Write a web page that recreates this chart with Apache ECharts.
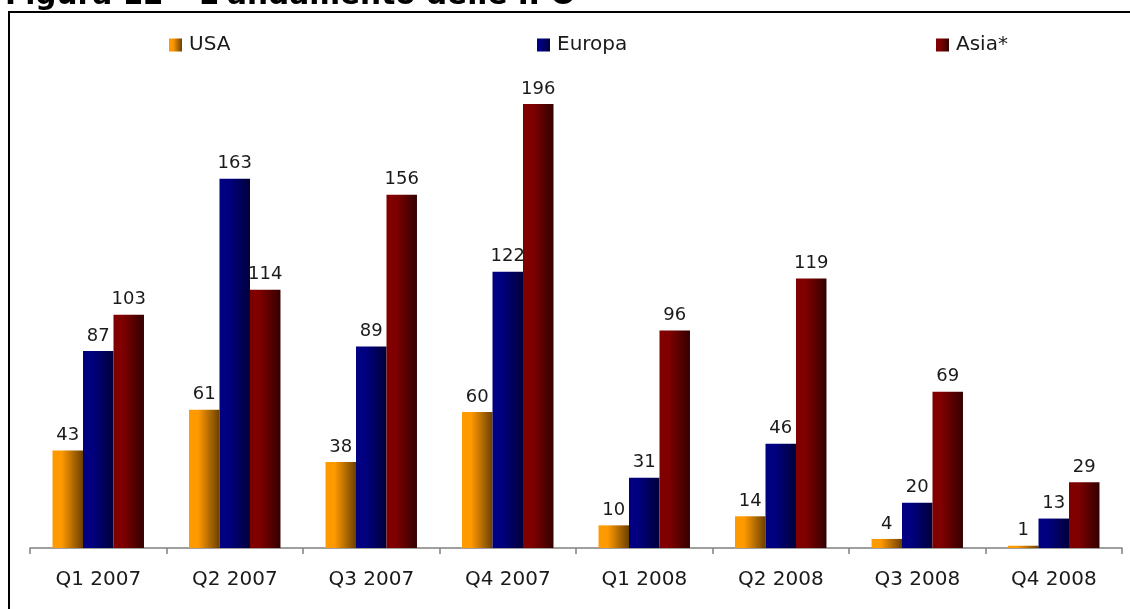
<!DOCTYPE html>
<html>
<head>
<meta charset="utf-8">
<script src="https://cdn.jsdelivr.net/npm/echarts@6/dist/echarts.min.js"></script>
<style>
  html, body { margin: 0; padding: 0; background: #fff; }
  #chart { width: 1130px; height: 609px; }
</style>
</head>
<body>
<div id="chart"></div>
<script>
const categories = ['Q1 2007', 'Q2 2007', 'Q3 2007', 'Q4 2007', 'Q1 2008', 'Q2 2008', 'Q3 2008', 'Q4 2008']
const usa = [43, 61, 38, 60, 10, 14, 4, 1]
const europa = [87, 163, 89, 122, 31, 46, 20, 13]
const asia = [103, 114, 156, 196, 96, 119, 69, 29]

const font = 'DejaVu Sans, Verdana, sans-serif'

function grad (light, dark) {
  return new echarts.graphic.LinearGradient(0, 0, 1, 0, [
    { offset: 0, color: light },
    { offset: 0.3, color: light },
    { offset: 1, color: dark }
  ])
}

function bars (name, data, light, dark) {
  return {
    name: name,
    type: 'bar',
    data: data,
    barGap: '0%',
    barCategoryGap: '33%',
    itemStyle: { color: grad(light, dark) },
    label: {
      show: true,
      position: 'top',
      distance: 6,
      color: '#1a1a1a',
      fontFamily: font,
      fontSize: 18
    }
  }
}

function legend (name, left) {
  return {
    data: [name],
    left: left,
    top: 35,
    padding: 0,
    icon: 'rect',
    itemWidth: 13,
    itemHeight: 13,
    itemGap: 0,
    textStyle: { fontFamily: font, fontSize: 20, color: '#1a1a1a', padding: [0, 0, 0, 2] }
  }
}

const chart = echarts.init(document.getElementById('chart'))
chart.setOption({
  animation: false,
  title: {
    text: 'Figura 12 \u2013 L\'andamento delle IPO',
    left: 0,
    top: -24,
    textStyle: { fontFamily: font, fontWeight: 'bold', fontSize: 29.6, color: '#000' }
  },
  graphic: [{
    type: 'rect',
    shape: { x: 9, y: 12, width: 1200, height: 700 },
    style: { fill: 'none', stroke: '#000', lineWidth: 2 },
    silent: true
  }],
  legend: [
    legend('USA', 169),
    legend('Europa', 537),
    legend('Asia*', 936)
  ],
  grid: { left: 30, right: 8, top: 61, bottom: 61 },
  xAxis: {
    type: 'category',
    data: categories,
    axisLine: { lineStyle: { color: '#808080', width: 1.5 } },
    axisTick: { show: true, interval: 0, length: 6, lineStyle: { color: '#808080', width: 1.5 } },
    axisLabel: { margin: 22, color: '#1a1a1a', fontFamily: font, fontSize: 20 }
  },
  yAxis: {
    type: 'value',
    min: 0,
    max: 215,
    show: false
  },
  series: [
    bars('USA', usa, '#ff9900', '#6b4000'),
    bars('Europa', europa, '#000080', '#00003a'),
    bars('Asia*', asia, '#800000', '#330000')
  ]
})
</script>
</body>
</html>
